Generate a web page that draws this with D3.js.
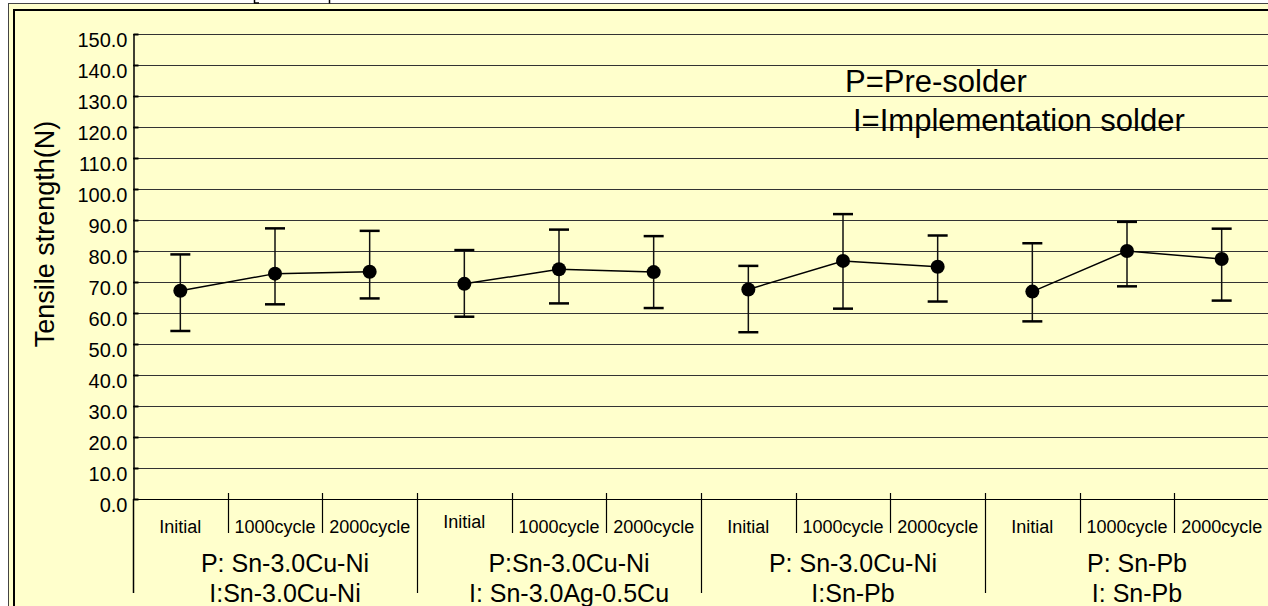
<!DOCTYPE html>
<html lang="en">
<head>
<meta charset="UTF-8">
<title>Tensile strength</title>
<script src="https://d3js.org/d3.v7.min.js"></script>
<style>
  body { margin: 0; background: #fff; }
  svg { display: block; font-family: "Liberation Sans", Arial, sans-serif; }
</style>
</head>
<body>
<svg id="chart" width="1268" height="606"></svg>
<script>
    // chart values
    const groupLine1 = ["P: Sn-3.0Cu-Ni", "P:Sn-3.0Cu-Ni", "P: Sn-3.0Cu-Ni", "P: Sn-Pb"];
    const groupLine2 = ["I:Sn-3.0Cu-Ni", "I: Sn-3.0Ag-0.5Cu", "I:Sn-Pb", "I: Sn-Pb"];
    const stages = ["Initial", "1000cycle", "2000cycle"];
    const means = [
        [67.2, 72.7, 73.3],
        [69.4, 74.1, 73.2],
        [67.6, 76.8, 74.9],
        [66.9, 80.0, 77.4]
    ];
    const upper = [
        [78.9, 87.3, 86.5],
        [80.3, 86.9, 84.8],
        [75.2, 91.9, 85.0],
        [82.5, 89.4, 87.2]
    ];
    const lower = [
        [54.2, 62.8, 64.7],
        [58.8, 63.1, 61.6],
        [53.8, 61.4, 63.7],
        [57.3, 68.6, 64.0]
    ];
    const yTicks = d3.range(0, 151, 10);

    const svg = d3.select("#chart");
    const bg = "#ffffcc";

    // frame
    svg.append("rect").attr("x", 8.5).attr("y", 3.5).attr("width", 1300).attr("height", 700)
        .attr("fill", bg).attr("stroke", "#444").attr("stroke-width", 1);
    svg.append("rect").attr("x", 14).attr("y", 10).attr("width", 1300).attr("height", 700)
        .attr("fill", "none").attr("stroke", "#000").attr("stroke-width", 2);
    // remains of cropped text above the frame
    svg.append("path").attr("d", "M254.5,0V3H259 M329.5,0V3.5")
        .attr("fill", "none").attr("stroke", "#000").attr("stroke-width", 1.5);

    const keys = [];
    means.forEach((g, gi) => stages.forEach((s, si) => keys.push(gi + "-" + si)));

    const x = d3.scaleBand().domain(keys).range([133, 1269]).padding(0);
    const y = d3.scaleLinear().domain([0, 150]).range([499, 34]);

    // gridlines
    svg.append("g").selectAll("line").data(yTicks).join("line")
        .attr("x1", 133).attr("x2", 1268)
        .attr("y1", d => Math.round(y(d)) + 0.5).attr("y2", d => Math.round(y(d)) + 0.5)
        .attr("stroke", d => d === 0 ? "#000" : "#333").attr("stroke-width", 1);

    // y axis
    const yAxis = svg.append("g").attr("transform", "translate(133.5,0)")
        .call(d3.axisLeft(y).tickValues(yTicks).tickFormat(d3.format(".1f"))
            .tickSizeInner(-5).tickSizeOuter(0).tickPadding(6));
    yAxis.select(".domain").attr("stroke", "#000").attr("stroke-width", 1.5);
    yAxis.selectAll(".tick line").attr("stroke", "#000").attr("stroke-width", 2);
    yAxis.selectAll(".tick text").attr("font-size", 20).attr("fill", "#000")
        .attr("font-family", "Liberation Sans, Arial, sans-serif").attr("dy", "0.62em");
    // axis line continues down as the first group separator
    svg.append("line").attr("x1", 133.5).attr("x2", 133.5).attr("y1", 499).attr("y2", 593)
        .attr("stroke", "#000").attr("stroke-width", 1.5);

    // category separators
    const sep = svg.append("g");
    keys.forEach((k, i) => {
        if (i === 0) return;
        const xx = Math.round(x(k)) + 0.5;
        sep.append("line").attr("x1", xx).attr("x2", xx).attr("y1", 493)
            .attr("y2", i % 3 === 0 ? 593 : 533)
            .attr("stroke", "#000").attr("stroke-width", 1.2);
    });

    // stage labels
    svg.append("g").selectAll("text").data(keys).join("text")
        .attr("x", d => x(d) + x.bandwidth() / 2)
        .attr("y", d => d === "1-0" ? 528 : 533)
        .attr("text-anchor", "middle").attr("font-size", 18)
        .text(d => stages[+d.split("-")[1]]);

    // group labels
    const gl = svg.append("g");
    means.forEach((g, gi) => {
        const cx = x(gi + "-1") + x.bandwidth() / 2 + 10;
        gl.append("text").attr("x", cx).attr("y", 572).attr("text-anchor", "middle")
            .attr("font-size", 25).text(groupLine1[gi]);
        gl.append("text").attr("x", cx).attr("y", 602).attr("text-anchor", "middle")
            .attr("font-size", 25).text(groupLine2[gi]);
    });

    // error bars and points
    const marks = svg.append("g");
    means.forEach((g, gi) => {
        const pts = g.map((v, si) => ({
            cx: x(gi + "-" + si) + x.bandwidth() / 2,
            v: v, hi: upper[gi][si], lo: lower[gi][si]
        }));
        pts.forEach(p => {
            marks.append("line").attr("x1", p.cx).attr("x2", p.cx)
                .attr("y1", y(p.hi)).attr("y2", y(p.lo))
                .attr("stroke", "#111").attr("stroke-width", 1.5);
            [p.hi, p.lo].forEach(e => {
                marks.append("line").attr("x1", p.cx - 10).attr("x2", p.cx + 10)
                    .attr("y1", y(e)).attr("y2", y(e))
                    .attr("stroke", "#000").attr("stroke-width", 2.5);
            });
        });
        marks.append("path").datum(pts)
            .attr("d", d3.line().x(p => p.cx).y(p => y(p.v)))
            .attr("fill", "none").attr("stroke", "#000").attr("stroke-width", 1.5);
        marks.selectAll(null).data(pts).enter().append("circle")
            .attr("cx", p => p.cx).attr("cy", p => y(p.v)).attr("r", 7).attr("fill", "#000");
    });

    // axis title
    svg.append("text").attr("transform", "translate(54,234) rotate(-90)")
        .attr("text-anchor", "middle").attr("font-size", 27).text("Tensile strength(N)");

    // legend notes
    svg.append("text").attr("x", 845).attr("y", 92).attr("font-size", 31).text("P=Pre-solder");
    svg.append("text").attr("x", 853).attr("y", 131).attr("font-size", 31).text("I=Implementation solder");
</script>
</body>
</html>
